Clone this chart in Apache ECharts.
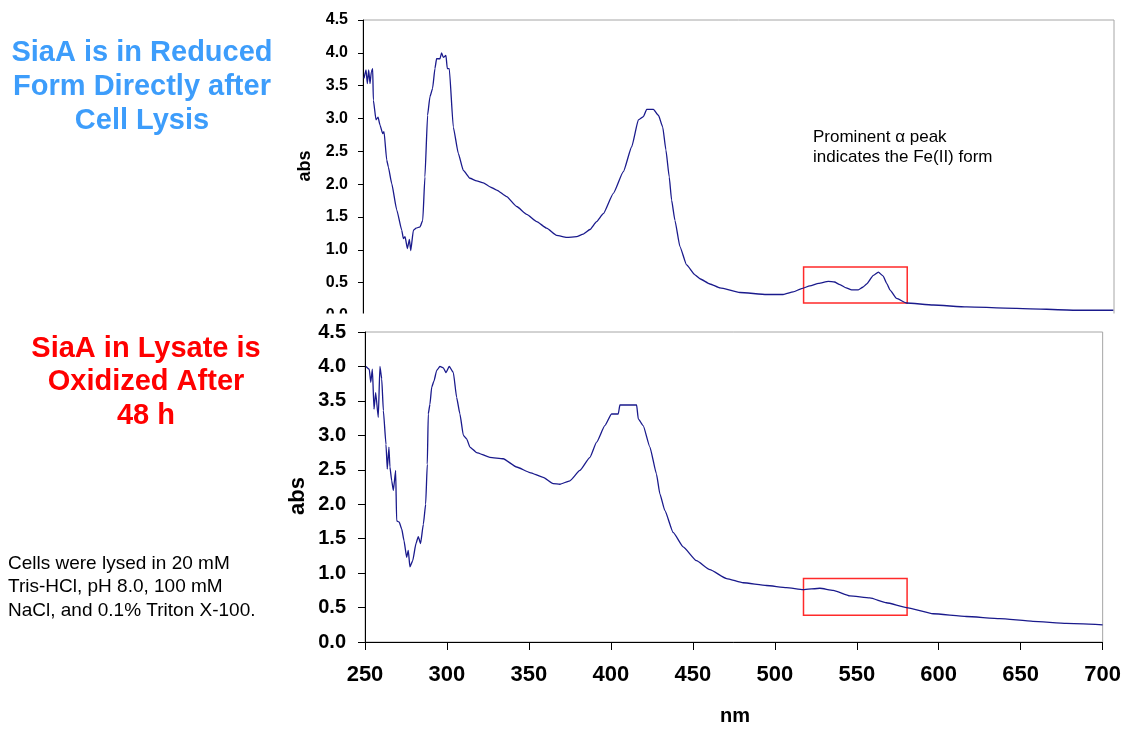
<!DOCTYPE html>
<html>
<head>
<meta charset="utf-8">
<title>SiaA absorbance spectra</title>
<script src="https://cdn.jsdelivr.net/npm/echarts@6/dist/echarts.min.js"></script>
<style>
  html, body { margin: 0; padding: 0; background: #ffffff; }
  #chart { width: 1124px; height: 730px; }
</style>
</head>
<body>
<div id="chart"></div>
<script>
// Wavelength axis (nm) and absorbance ticks
const xTicks = [250, 300, 350, 400, 450, 500, 550, 600, 650, 700];
const yTicks = [0.0, 0.5, 1.0, 1.5, 2.0, 2.5, 3.0, 3.5, 4.0, 4.5];

// Spectrum directly after cell lysis (reduced SiaA)
const reducedNm = [
  250.6, 251.8, 252.6, 253.4, 254.2, 255.0, 255.8, 256.2, 257.8, 259.0,
  260.2, 261.8, 262.6, 264.2, 265.2, 267.2, 270.2, 273.2, 274.2, 275.2,
  276.6, 277.8, 278.6, 280.2, 281.8, 284.2, 285.8, 287.1, 288.7, 290.1,
  291.7, 293.1, 294.1, 296.1, 297.1, 298.1, 299.7, 300.5, 301.7, 304.1,
  307.1, 310.1, 314.1, 318.1, 322.1, 326.1, 330.1, 336.1, 342.1, 348.1,
  354.1, 360.0, 366.0, 372.0, 378.0, 382.0, 386.0, 390.0, 394.0, 400.0,
  406.0, 411.0, 415.0, 418.0, 420.0, 424.0, 427.0, 429.6, 431.5, 433.5,
  434.9, 436.9, 439.9, 443.9, 448.9, 451.9, 457.9, 463.9, 475.9, 491.8,
  501.8, 507.8, 512.8, 517.8, 523.0, 528.8, 532.5, 535.8, 539.5, 542.8,
  546.8, 549.5, 551.8, 555.8, 558.8, 561.7, 563.8, 565.7, 569.7, 575.7,
  591.7, 611.7, 641.6, 677.6, 699.6
];
const reducedAbs = [
  3.61, 3.74, 3.53, 3.74, 3.53, 3.71, 3.76, 3.28, 2.98, 3.02,
  2.90, 2.77, 2.80, 2.37, 2.26, 2.01, 1.61, 1.30, 1.17, 1.20,
  1.02, 1.16, 0.99, 1.30, 1.33, 1.35, 1.45, 2.11, 3.05, 3.33,
  3.46, 3.76, 3.91, 3.91, 4.00, 3.93, 3.96, 3.76, 3.76, 2.87,
  2.47, 2.21, 2.09, 2.05, 2.02, 1.96, 1.91, 1.81, 1.66, 1.54,
  1.43, 1.33, 1.22, 1.19, 1.20, 1.24, 1.31, 1.43, 1.55, 1.86,
  2.19, 2.57, 2.98, 3.03, 3.14, 3.14, 3.05, 2.87, 2.52, 2.11,
  1.76, 1.45, 1.05, 0.77, 0.62, 0.56, 0.48, 0.42, 0.35, 0.32,
  0.32, 0.36, 0.41, 0.45, 0.49, 0.52, 0.51, 0.47, 0.42, 0.39,
  0.39, 0.43, 0.48, 0.61, 0.66, 0.60, 0.49, 0.39, 0.26, 0.19,
  0.16, 0.13, 0.11, 0.08, 0.08
];

// Spectrum of the lysate after 48 h (oxidized SiaA)
const oxidizedNm = [
  250.6, 252.6, 253.5, 254.5, 255.5, 256.5, 258.1, 259.1, 260.2, 261.2,
  262.8, 263.6, 264.6, 265.2, 266.3, 267.3, 268.7, 269.3, 270.9, 272.4,
  273.8, 275.4, 276.4, 277.4, 279.1, 281.1, 282.5, 283.9, 285.6, 287.0,
  288.0, 288.6, 289.6, 290.7, 292.1, 293.7, 295.7, 297.8, 299.4, 301.4,
  303.9, 305.9, 307.9, 310.0, 312.0, 314.0, 318.1, 326.2, 334.3, 342.5,
  350.6, 358.7, 364.8, 368.9, 375.0, 381.1, 387.2, 391.3, 396.3, 400.4,
  404.5, 405.5, 415.7, 416.7, 419.7, 423.8, 427.8, 429.9, 432.9, 438.0,
  444.1, 452.2, 460.4, 470.6, 480.7, 494.9, 507.1, 517.3, 527.5, 535.6,
  545.8, 558.0, 568.1, 580.3, 596.6, 616.9, 637.2, 657.5, 677.9, 700.0
];
const oxidizedAbs = [
  4.00, 3.96, 3.77, 3.96, 3.38, 3.62, 3.26, 4.00, 3.82, 3.36,
  2.87, 2.51, 2.83, 2.54, 2.34, 2.20, 2.49, 1.76, 1.74, 1.64,
  1.47, 1.23, 1.33, 1.09, 1.18, 1.43, 1.53, 1.43, 1.71, 2.00,
  2.58, 3.31, 3.45, 3.70, 3.79, 3.94, 4.00, 3.98, 3.91, 4.00,
  3.91, 3.55, 3.31, 3.00, 2.95, 2.83, 2.75, 2.68, 2.66, 2.54,
  2.46, 2.39, 2.30, 2.29, 2.34, 2.49, 2.68, 2.90, 3.14, 3.31,
  3.31, 3.44, 3.44, 3.24, 3.14, 2.83, 2.44, 2.15, 1.91, 1.59,
  1.38, 1.18, 1.05, 0.92, 0.86, 0.82, 0.79, 0.76, 0.78, 0.75,
  0.67, 0.64, 0.57, 0.50, 0.41, 0.37, 0.34, 0.30, 0.27, 0.25
];

// Highlighted alpha/beta band regions: [nm start, abs top], [nm end, abs bottom]
const reducedBox = [[514.0, 0.74], [576.1, 0.19]];
const oxidizedBox = [[517.5, 0.92], [580.7, 0.39]];

const lineColor = '#1a1a8c';
const boxColor = '#ff2a2a';
const fontFamily = '"Liberation Sans", Arial, Helvetica, sans-serif';

function pairs(xs, ys) {
  return xs.map((x, i) => [x, ys[i]]);
}

function boxArea(box) {
  return {
    silent: true,
    itemStyle: { color: 'rgba(0,0,0,0)', borderColor: boxColor, borderWidth: 1.5 },
    data: [[{ coord: box[0] }, { coord: box[1] }]]
  };
}

function yAxisFor(gridIndex, fontSize, tickLen, margin) {
  return {
    type: 'value', gridIndex: gridIndex,
    min: yTicks[0], max: yTicks[yTicks.length - 1], interval: yTicks[1] - yTicks[0],
    axisLine: { show: true, lineStyle: { color: '#000000', width: 1 } },
    axisTick: { show: true, length: tickLen, lineStyle: { color: '#000000' } },
    splitLine: { show: false },
    axisLabel: {
      color: '#000000', fontWeight: 'bold', fontSize: fontSize, fontFamily: fontFamily,
      margin: margin, formatter: v => v.toFixed(1)
    }
  };
}

const chart = echarts.init(document.getElementById('chart'), null, { renderer: 'canvas' });

chart.setOption({
  backgroundColor: '#ffffff',
  animation: false,
  grid: [
    { left: 363, top: 20, right: 10, bottom: 414.5, show: true, borderColor: '#a6a6a6', borderWidth: 1, backgroundColor: '#ffffff' },
    { left: 365, top: 332, right: 21, bottom: 88, show: true, borderColor: '#a6a6a6', borderWidth: 1, backgroundColor: '#ffffff' }
  ],
  xAxis: [
    {
      type: 'value', gridIndex: 0, min: xTicks[0], max: xTicks[xTicks.length - 1],
      interval: xTicks[1] - xTicks[0],
      axisLine: { show: false }, axisTick: { show: false }, axisLabel: { show: false },
      splitLine: { show: false }
    },
    {
      type: 'value', gridIndex: 1, min: xTicks[0], max: xTicks[xTicks.length - 1],
      interval: xTicks[1] - xTicks[0],
      axisLine: { show: true, onZero: false, lineStyle: { color: '#000000', width: 1 } },
      axisTick: { show: true, length: 8, lineStyle: { color: '#000000' } },
      splitLine: { show: false },
      axisLabel: { color: '#000000', fontWeight: 'bold', fontSize: 22, fontFamily: fontFamily, margin: 22 }
    }
  ],
  yAxis: [
    yAxisFor(0, 16, 5, 15),
    yAxisFor(1, 20, 7, 19)
  ],
  series: [
    {
      type: 'line', xAxisIndex: 0, yAxisIndex: 0,
      data: pairs(reducedNm, reducedAbs),
      showSymbol: false, smooth: 0.15, smoothMonotone: 'x',
      lineStyle: { color: lineColor, width: 1.3 },
      markArea: boxArea(reducedBox)
    },
    {
      type: 'line', xAxisIndex: 1, yAxisIndex: 1,
      data: pairs(oxidizedNm, oxidizedAbs),
      showSymbol: false, smooth: 0.15, smoothMonotone: 'x',
      lineStyle: { color: lineColor, width: 1.3 },
      markArea: boxArea(oxidizedBox)
    }
  ],
  graphic: [
    // the lower panel sits over the foot of the upper one
    { type: 'rect', z: 100, shape: { x: 290, y: 313.5, width: 834, height: 10.5 }, style: { fill: '#ffffff' } },
    {
      type: 'text', z: 110, x: 142, y: 87,
      style: {
        text: 'SiaA is in Reduced\nForm Directly after\nCell Lysis',
        fill: '#3d9dfb', font: 'bold 29px ' + fontFamily, align: 'center', verticalAlign: 'middle', lineHeight: 34
      }
    },
    {
      type: 'text', z: 110, x: 146, y: 382,
      style: {
        text: 'SiaA in Lysate is\nOxidized After\n48 h',
        fill: '#ff0000', font: 'bold 29px ' + fontFamily, align: 'center', verticalAlign: 'middle', lineHeight: 33.5
      }
    },
    {
      type: 'text', z: 110, x: 8, y: 587,
      style: {
        text: 'Cells were lysed in 20 mM\nTris-HCl, pH 8.0, 100 mM\nNaCl, and 0.1% Triton X-100.',
        fill: '#000000', font: '19px ' + fontFamily, align: 'left', verticalAlign: 'middle', lineHeight: 23.5
      }
    },
    {
      type: 'text', z: 110, x: 813, y: 147,
      style: {
        text: 'Prominent \u03b1 peak\nindicates the Fe(II) form',
        fill: '#000000', font: '17px ' + fontFamily, align: 'left', verticalAlign: 'middle', lineHeight: 20
      }
    },
    {
      type: 'text', z: 110, x: 305, y: 166, rotation: Math.PI / 2,
      style: { text: 'abs', fill: '#000000', font: 'bold 18px ' + fontFamily, align: 'center', verticalAlign: 'middle' }
    },
    {
      type: 'text', z: 110, x: 298, y: 496, rotation: Math.PI / 2,
      style: { text: 'abs', fill: '#000000', font: 'bold 22px ' + fontFamily, align: 'center', verticalAlign: 'middle' }
    },
    {
      type: 'text', z: 110, x: 735, y: 716,
      style: { text: 'nm', fill: '#000000', font: 'bold 20px ' + fontFamily, align: 'center', verticalAlign: 'middle' }
    }
  ]
});
</script>
</body>
</html>
